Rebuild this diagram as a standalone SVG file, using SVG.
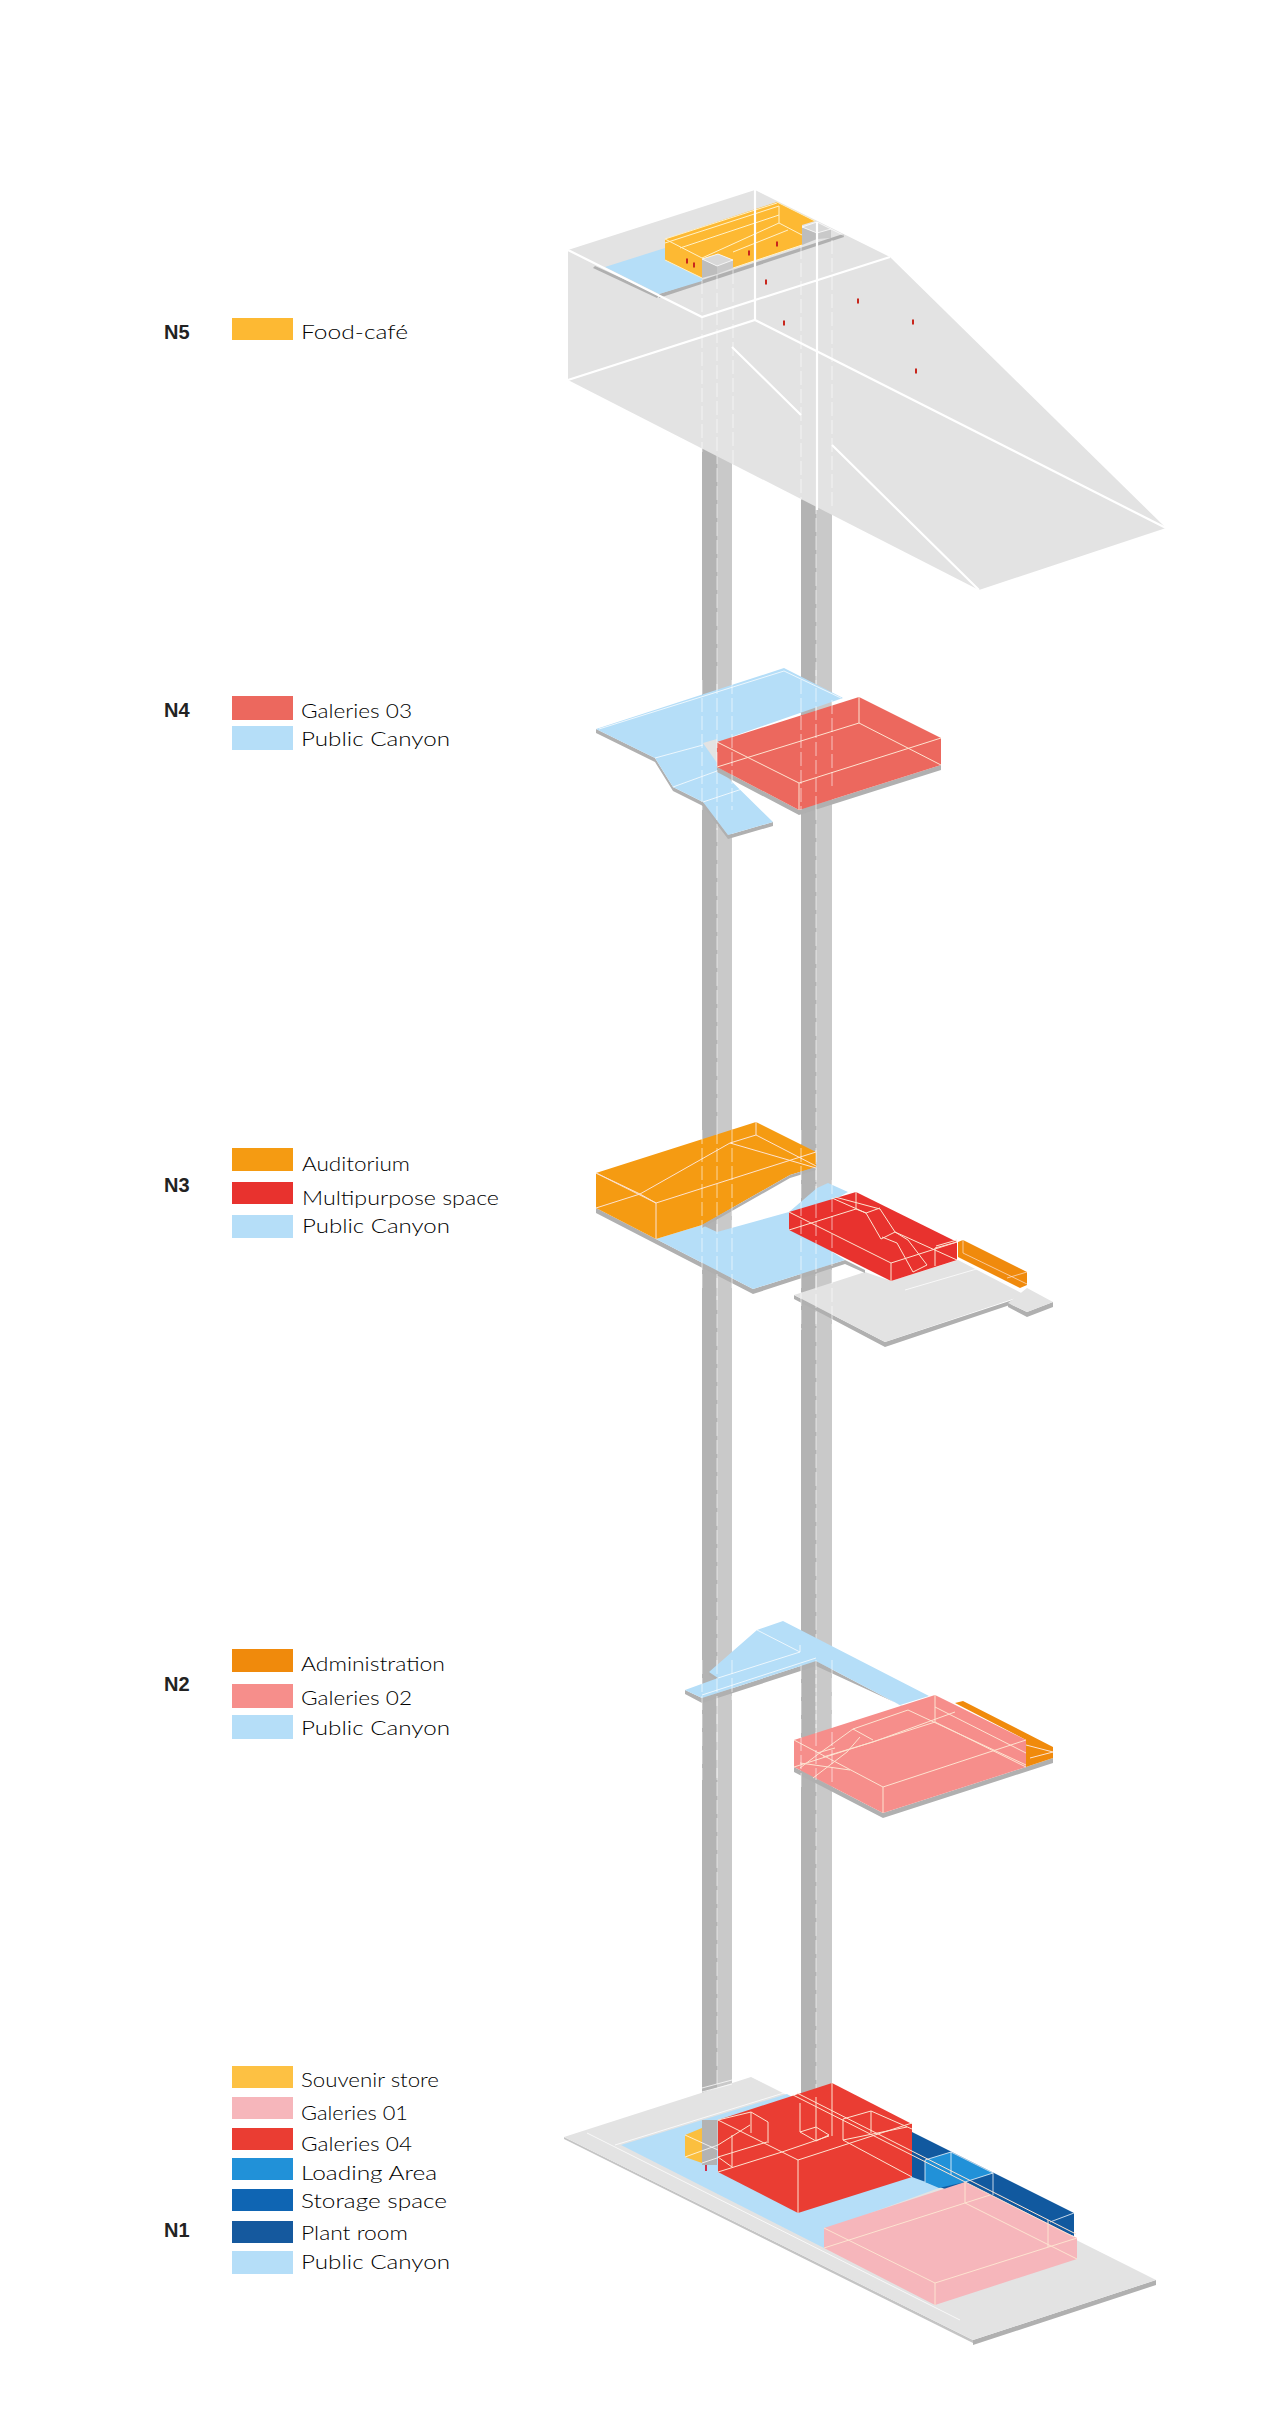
<svg xmlns="http://www.w3.org/2000/svg" width="1277" height="2430" viewBox="0 0 1277 2430">
<style>
.t{font-family:"Lato","Open Sans","Liberation Sans",sans-serif;font-size:20px;font-weight:300;fill:#000}
.n{font-family:"Liberation Sans",Arial,sans-serif;font-size:20px;font-weight:700;fill:#222}
.w{fill:none;stroke:#fff;stroke-width:2.2}
.c{fill:none;stroke:#fff;stroke-width:1;opacity:.75}
.o{fill:none;stroke:#fff1c8;stroke-width:1}
.p{fill:none;stroke:#fde3d0;stroke-width:1}
.d{fill:none;stroke:#fff;stroke-width:1;stroke-dasharray:14 4;opacity:.6}
.e{fill:#b0b0b0}
.blue{fill:#b5def8}
.grey{fill:#e3e3e3}
</style>
<rect width="1277" height="2430" fill="#fff"/>
<g id="columns">
<rect x="702" y="440" width="15" height="1725" fill="#b3b3b3"/>
<rect x="717" y="440" width="15" height="1725" fill="#c9c9c9"/>
<rect x="801" y="490" width="15" height="1620" fill="#b3b3b3"/>
<rect x="816" y="490" width="16" height="1620" fill="#c9c9c9"/>
<path class="d" d="M717 450V2165M816 500V2100"/>
</g>
<g id="level-5">
<polygon class="grey" points="568,250 755,190 890,257 1166,528 979,590 568,380"/>
<polygon class="e" points="595,266 659,295 657,298 593,268"/>
<polygon class="e" points="659,294 843,234 844,237 659,298"/>
<polygon class="blue" points="605,267 665,248 665,260 702,278 702,281 659,294"/>
<polygon fill="#fdb933" points="665,239 777,202 815,221 802,225 802,245 733,268 733,260 718,254 702,259 702,278 665,260"/>
<path class="o" d="M665,239L777,203M665,243L779,206M680,248L779,215M702,258L779,223V206M779,223L802,235M733,252L788,230M665,239L702,258M665,260L702,278M733,268L802,245M777,202L815,221"/>
<polygon fill="#bdbdbd" points="702,259 717,266 717,274 702,278"/>
<polygon fill="#d8d8d8" points="702,259 718,254 733,260 717,266"/>
<polygon fill="#c9c9c9" points="717,266 733,260 733,268 717,274"/>
<polygon fill="#bdbdbd" points="802,227 817,233 817,239 802,245"/>
<polygon fill="#d8d8d8" points="802,227 817,222 831,229 817,233"/>
<polygon fill="#c9c9c9" points="817,233 831,229 831,238 817,239"/>
<path class="c" d="M702,259L718,254L733,260L717,266ZM802,227L817,222L831,229L817,233ZM831,229L843,235"/>
<g fill="#c8261c">
<rect x="686" y="258.500" width="2" height="5"/><rect x="693" y="262.500" width="2" height="5"/><rect x="748" y="250.500" width="2" height="5"/><rect x="776" y="241.500" width="2" height="5"/><rect x="765" y="279.500" width="2" height="5"/><rect x="857" y="298.500" width="2" height="5"/><rect x="783" y="320.500" width="2" height="5"/><rect x="912" y="319.500" width="2" height="5"/><rect x="915" y="368.500" width="2" height="5"/>
</g>
<path class="w" d="M568,250L702,317L890,257M755,190V320M568,380L755,320L1166,528M732,347L801,415M832,445L979,590M817,222V510"/>
<path class="d" d="M702,280V452M717,275V452M733,270V465M801,245V500M832,240V510"/>
</g>
<g id="level-4">
<polygon class="e" points="596,729 596,733 655,762 673,791 703,806 728,839 773,826 773,822 728,835 703,802 673,787 655,758"/>
<polygon class="blue" points="596,729 784,668 843,698 717,742 717,767 773,822 728,835 703,802 673,787 655,758"/>
<polygon class="grey" points="703,743 717,739 717,763"/>
<path class="c" d="M599,729L784,671L841,698M655,758L703,745M673,787L717,771M703,802L748,787"/>
<polygon class="e" points="717,767 799,810 941,765 941,770 799,815 717,772"/>
<polygon fill="#ec685e" points="717,742 859,697 941,738 941,765 799,810 717,767"/>
<path class="p" d="M717,742L799,783L941,738M799,783V810M717,767L859,723V697M859,723L941,765"/>
<path class="d" d="M702,680V810M717,680V830M732,680V810M801,680V810M816,670V810M832,700V790" stroke-dasharray="10 6"/>
</g>
<g id="level-3">
<polygon class="e" points="794,1295 885,1342 1025,1296 1025,1300 885,1347 794,1299"/>
<polygon class="grey" points="794,1295 865,1272 891,1281 958,1260 1025,1295 885,1342"/>
<polygon class="e" points="1008,1303 1027,1312 1053,1302 1053,1307 1027,1317 1008,1307"/>
<polygon class="grey" points="1027,1288 1053,1302 1027,1312 1008,1303"/>
<path class="c" d="M905,1290L980,1268L1020,1288"/>
<polygon class="e" points="596,1208 656,1239 753,1289 845,1260 865,1270 865,1273 845,1264 753,1294 656,1244 596,1213"/>
<polygon class="blue" points="656,1239 702,1225 717,1232 789,1212 817,1188 828,1183 848,1192 789,1225 845,1260 753,1289"/>
<polygon fill="#f59b12" points="596,1173 756,1122 816,1152 816,1167 790,1175 702,1225 656,1239 596,1208"/>
<polygon class="e" points="790,1175 816,1167 816,1170 790,1178 702,1228 702,1225"/>
<path class="p" d="M596,1173L656,1203V1239M656,1203L816,1152M596,1208L640,1194L730,1143L756,1135V1122M756,1135L816,1166M730,1143L816,1168M596,1173L640,1194L656,1203"/>
<polygon fill="#e8322e" points="789,1212 856,1192 957,1242 957,1260 891,1281 789,1230"/>
<path class="p" d="M789,1212L891,1263V1281M891,1263L957,1242M789,1230L856,1209V1192M832,1198L866,1213L881,1239M835,1197L880,1209L895,1232M866,1213L880,1208M856,1209L866,1213M881,1239L895,1232L908,1240M882,1237L897,1243L913,1272M908,1240L927,1265L913,1272M895,1232L957,1260M935,1248V1266M935,1248L957,1242M936,1246L957,1240"/>
<polygon fill="#f08a0c" points="958,1242 963,1240 1027,1272 1027,1285 1020,1288 958,1257"/>
<path class="p" opacity=".7" d="M963,1240V1253L1027,1284M1007,1278L1027,1272"/>
<path class="d" d="M702,1130V1290M717,1130V1300M732,1130V1290M801,1130V1330M816,1150V1330M832,1180V1330" stroke-dasharray="10 6"/>
</g>
<g id="level-2">
<polygon class="e" points="685,1690 702,1698 816,1661 900,1705 905,1707 816,1666 702,1703 685,1694"/>
<polygon class="e" points="709,1672 718,1678 718,1681 709,1675"/>
<polygon class="blue" points="685,1690 718,1678 709,1672 757,1630 783,1621 929,1696 900,1705 816,1661 702,1698"/>
<path class="c" d="M757,1630L800,1652L718,1678M800,1645V1652M702,1695L816,1658"/>
<polygon class="e" points="794,1767 883,1813 1026,1767 1053,1758 1053,1763 883,1818 794,1772"/>
<polygon fill="#f08a0c" points="955,1703 963,1701 1053,1747 1053,1758 1026,1767 1026,1740"/>
<polygon fill="#f68e8b" points="794,1740 935,1695 1026,1740 1026,1767 883,1813 794,1767"/>
<path class="p" d="M794,1740L883,1787L1026,1740M883,1787V1813M794,1767L935,1722V1695M935,1722L1026,1767M853,1729L908,1710L1026,1765M873,1742L955,1712M935,1707L1026,1753M1026,1745L1053,1752M1030,1758L1053,1752M853,1729L873,1740M860,1737L847,1752L813,1778M853,1729L817,1755L800,1768M817,1753L835,1748M823,1757L873,1742M800,1763L850,1770"/>
<path class="d" d="M702,1660V1780M717,1660V1780M732,1660V1700M801,1665V1790M816,1660V1780M832,1660V1785" stroke-dasharray="10 6"/>
</g>
<g id="level-1">
<polygon fill="#c4c4c4" points="564,2137 973,2340 973,2343 564,2139"/>
<polygon class="e" points="973,2340 1156,2280 1156,2285 973,2345"/>
<polygon class="grey" points="564,2137 751,2077 1156,2280 973,2340"/>
<path class="c" d="M587,2133L960,2320M615,2145L787,2092"/>
<polygon class="blue" points="621,2145 787,2094 912,2165 939,2188 824,2230 824,2248"/>
<polygon fill="#fbbf3f" points="685,2135 702,2128 702,2163 685,2157"/>
<rect x="702" y="2120" width="15" height="45" fill="#b3b3b3"/><rect x="717" y="2120" width="15" height="30" fill="#c9c9c9"/>
<path class="c" d="M685,2135L718,2150M685,2157L718,2145M702,2088L732,2080M702,2092L732,2084M702,2163L732,2153"/>
<rect x="705" y="2165" width="2" height="6" fill="#d0304a"/>
<polygon fill="#ea3d33" points="718,2120 832,2083 912,2124 912,2177 798,2213 718,2172"/>
<path class="p" stroke-linejoin="round" d="M718,2120L798,2160L912,2123M798,2160V2213M718,2172L782,2152L829,2136M832,2083V2136M800,2132L816,2127L829,2135L816,2141L800,2132M718,2120L751,2112L768,2122V2143M751,2112V2133M718,2145L750,2125M718,2157L767,2142M732,2135V2167M718,2157L732,2167M843,2119L871,2111L912,2129M843,2119V2140M871,2111V2133M843,2140L907,2127M843,2140L912,2177M800,2103V2132M816,2097V2141"/>
<polygon fill="#11599f" points="912,2132 1074,2213 1074,2236 912,2177"/>
<polygon fill="#2191d8" points="925,2160 951,2152 993,2173 965,2182 939,2188 925,2182"/>
<path class="c" d="M925,2160V2182M951,2152V2175M993,2173V2195M1050,2222L1074,2213M925,2160L951,2152L993,2173L965,2182"/>
<polygon fill="#f6b6bb" points="824,2228 965,2182 1077,2238 1077,2259 935,2305 824,2248"/>
<path class="p" d="M824,2228L935,2283L1077,2238M935,2283V2305M824,2248L965,2203V2182M965,2203L1077,2259M1048,2220V2247M965,2203L990,2195"/>
<path class="p" d="M793,2095L1074,2237M797,2093L1076,2234"/>
</g>
<g id="legend-n5">
<text class="n" x="164" y="339">N5</text>
<rect x="232" y="318" width="61" height="22" fill="#fdb933"/>
<text class="t" x="301" y="339" textLength="107" lengthAdjust="spacingAndGlyphs">Food-café</text>
</g>
<g id="legend-n4">
<text class="n" x="164" y="717">N4</text>
<rect x="232" y="696" width="61" height="24" fill="#ec685e"/>
<rect x="232" y="726" width="61" height="24" class="blue"/>
<text class="t" x="301" y="718" textLength="111" lengthAdjust="spacingAndGlyphs">Galeries 03</text>
<text class="t" x="301" y="746" textLength="149" lengthAdjust="spacingAndGlyphs">Public Canyon</text>
</g>
<g id="legend-n3">
<text class="n" x="164" y="1192">N3</text>
<rect x="232" y="1148" width="61" height="23" fill="#f59b12"/>
<rect x="232" y="1182" width="61" height="22" fill="#e8322e"/>
<rect x="232" y="1215" width="61" height="23" class="blue"/>
<text class="t" x="302" y="1171" textLength="108" lengthAdjust="spacingAndGlyphs">Auditorium</text>
<text class="t" x="302" y="1205" textLength="197" lengthAdjust="spacingAndGlyphs">Multipurpose space</text>
<text class="t" x="302" y="1233" textLength="148" lengthAdjust="spacingAndGlyphs">Public Canyon</text>
</g>
<g id="legend-n2">
<text class="n" x="164" y="1691">N2</text>
<rect x="232" y="1649" width="61" height="23" fill="#f08a0c"/>
<rect x="232" y="1684" width="61" height="24" fill="#f68e8b"/>
<rect x="232" y="1715" width="61" height="24" class="blue"/>
<text class="t" x="301" y="1671" textLength="144" lengthAdjust="spacingAndGlyphs">Administration</text>
<text class="t" x="301" y="1705" textLength="111" lengthAdjust="spacingAndGlyphs">Galeries 02</text>
<text class="t" x="301" y="1735" textLength="149" lengthAdjust="spacingAndGlyphs">Public Canyon</text>
</g>
<g id="legend-n1">
<text class="n" x="164" y="2237">N1</text>
<rect x="232" y="2066" width="61" height="22" fill="#fdc143"/>
<rect x="232" y="2097" width="61" height="22" fill="#f6b6bb"/>
<rect x="232" y="2128" width="61" height="22" fill="#ea3d33"/>
<rect x="232" y="2158" width="61" height="22" fill="#2191d8"/>
<rect x="232" y="2189" width="61" height="22" fill="#0f65b3"/>
<rect x="232" y="2221" width="61" height="22" fill="#15599e"/>
<rect x="232" y="2251" width="61" height="23" class="blue"/>
<text class="t" x="301" y="2087" textLength="138" lengthAdjust="spacingAndGlyphs">Souvenir store</text>
<text class="t" x="301" y="2120" textLength="107" lengthAdjust="spacingAndGlyphs">Galeries 01</text>
<text class="t" x="301" y="2151" textLength="111" lengthAdjust="spacingAndGlyphs">Galeries 04</text>
<text class="t" x="301" y="2180" textLength="136" lengthAdjust="spacingAndGlyphs">Loading Area</text>
<text class="t" x="301" y="2208" textLength="146" lengthAdjust="spacingAndGlyphs">Storage space</text>
<text class="t" x="301" y="2240" textLength="107" lengthAdjust="spacingAndGlyphs">Plant room</text>
<text class="t" x="301" y="2269" textLength="149" lengthAdjust="spacingAndGlyphs">Public Canyon</text>
</g>
</svg>
